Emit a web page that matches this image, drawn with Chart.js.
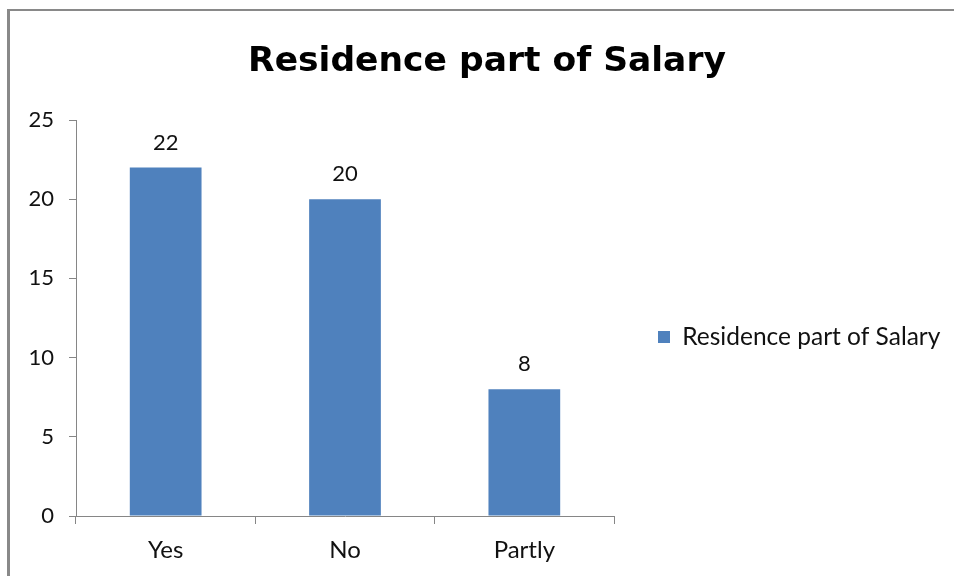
<!DOCTYPE html>
<html>
<head>
<meta charset="utf-8">
<title>Residence part of Salary</title>
<script src="https://cdn.jsdelivr.net/npm/chart.js@4/dist/chart.umd.min.js"></script>
<style>
    html, body { margin: 0; padding: 0; background: #ffffff; overflow: hidden; }
    #wrap { position: relative; width: 954px; height: 576px; }
    #frame {
        position: absolute; left: 7px; top: 9px; right: -10px; bottom: -10px;
        border-left: 3px solid #898989; border-top: 2px solid #898989;
        pointer-events: none;
    }
    #title {
        position: absolute; left: 20px; width: 934px; top: 39px;
        text-align: center; font: bold 34.5px/40px "DejaVu Sans", sans-serif; color: #000000;
        white-space: nowrap;
    }
</style>
</head>
<body>
<div id="wrap">
    <canvas id="salaryChart" width="954" height="576"></canvas>
    <div id="title">Residence part of Salary</div>
    <div id="frame"></div>
</div>
<script>
const categories = ['Yes', 'No', 'Partly'];
const seriesName = 'Residence part of Salary';
const seriesValues = [22, 20, 8];
const yTicks = [0, 5, 10, 15, 20, 25];

const FONT = 'Lato';
const TEXT = '#111111';
const AXIS = '#868686';
const BAR = '#4f81bd';

// plot box: x 76..614, y 120..516
const plotLeft = 76, plotRight = 614, plotTop = 120, plotBottom = 516;
const padLeft = 10;
// Chart.js caps each side box at a quarter of the free width (y axis + legend),
// so pick the right padding that makes the capped legend start at plotRight
const padRight = (4 * (954 - plotRight) - (954 - padLeft)) / 3;

// the legend is clipped to its (capped) box; let its text run to the canvas edge
const legendRoom = {
    id: 'legendRoom',
    afterLayout(chart) {
        chart.legend.right = chart.width;
        chart.legend.width = chart.legend.right - chart.legend.left;
    }
};

// value labels above each bar
const barValues = {
    id: 'barValues',
    afterDatasetsDraw(chart) {
        const ctx = chart.ctx;
        ctx.save();
        ctx.font = '22px ' + FONT;
        ctx.fillStyle = TEXT;
        ctx.textAlign = 'center';
        ctx.textBaseline = 'middle';
        chart.getDatasetMeta(0).data.forEach((bar, i) => {
            ctx.fillText(String(seriesValues[i]), bar.x, bar.y - 25);
        });
        ctx.restore();
    }
};

new Chart(document.getElementById('salaryChart'), {
    type: 'bar',
    data: {
        labels: categories,
        datasets: [{
            label: seriesName,
            data: seriesValues,
            backgroundColor: BAR,
            borderWidth: 0,
            barPercentage: 0.4,
            categoryPercentage: 1.0
        }]
    },
    options: {
        responsive: false,
        animation: false,
        layout: {
            padding: { top: plotTop, bottom: 0, left: padLeft, right: padRight }
        },
        plugins: {
            title: { display: false },
            legend: {
                position: 'right',
                fullSize: false,
                // empty title only pushes the entry a bit below the plot's middle
                title: { display: true, text: '', padding: 0, font: { size: 38, lineHeight: 1 } },
                labels: {
                    boxWidth: 12,
                    boxHeight: 12,
                    padding: 44,
                    color: TEXT,
                    font: { family: FONT, size: 24.5 }
                }
            },
            tooltip: { enabled: false }
        },
        scales: {
            x: {
                offset: true,
                grid: { display: true, offset: true, drawOnChartArea: false, drawTicks: true, tickLength: 8, color: AXIS },
                border: { display: true, color: AXIS, width: 1 },
                ticks: { color: TEXT, padding: 12, font: { family: FONT, size: 24 } },
                afterFit(scale) { scale.height = 576 - plotBottom; }
            },
            y: {
                min: 0,
                max: 25,
                afterBuildTicks(scale) { scale.ticks = yTicks.map(v => ({ value: v })); },
                grid: { display: true, drawOnChartArea: false, drawTicks: true, tickLength: 7, color: AXIS },
                border: { display: true, color: AXIS, width: 1 },
                ticks: { color: TEXT, padding: 15, font: { family: FONT, size: 22 } },
                afterFit(scale) { scale.width = plotLeft - padLeft; }
            }
        }
    },
    plugins: [legendRoom, barValues]
});
</script>
</body>
</html>
